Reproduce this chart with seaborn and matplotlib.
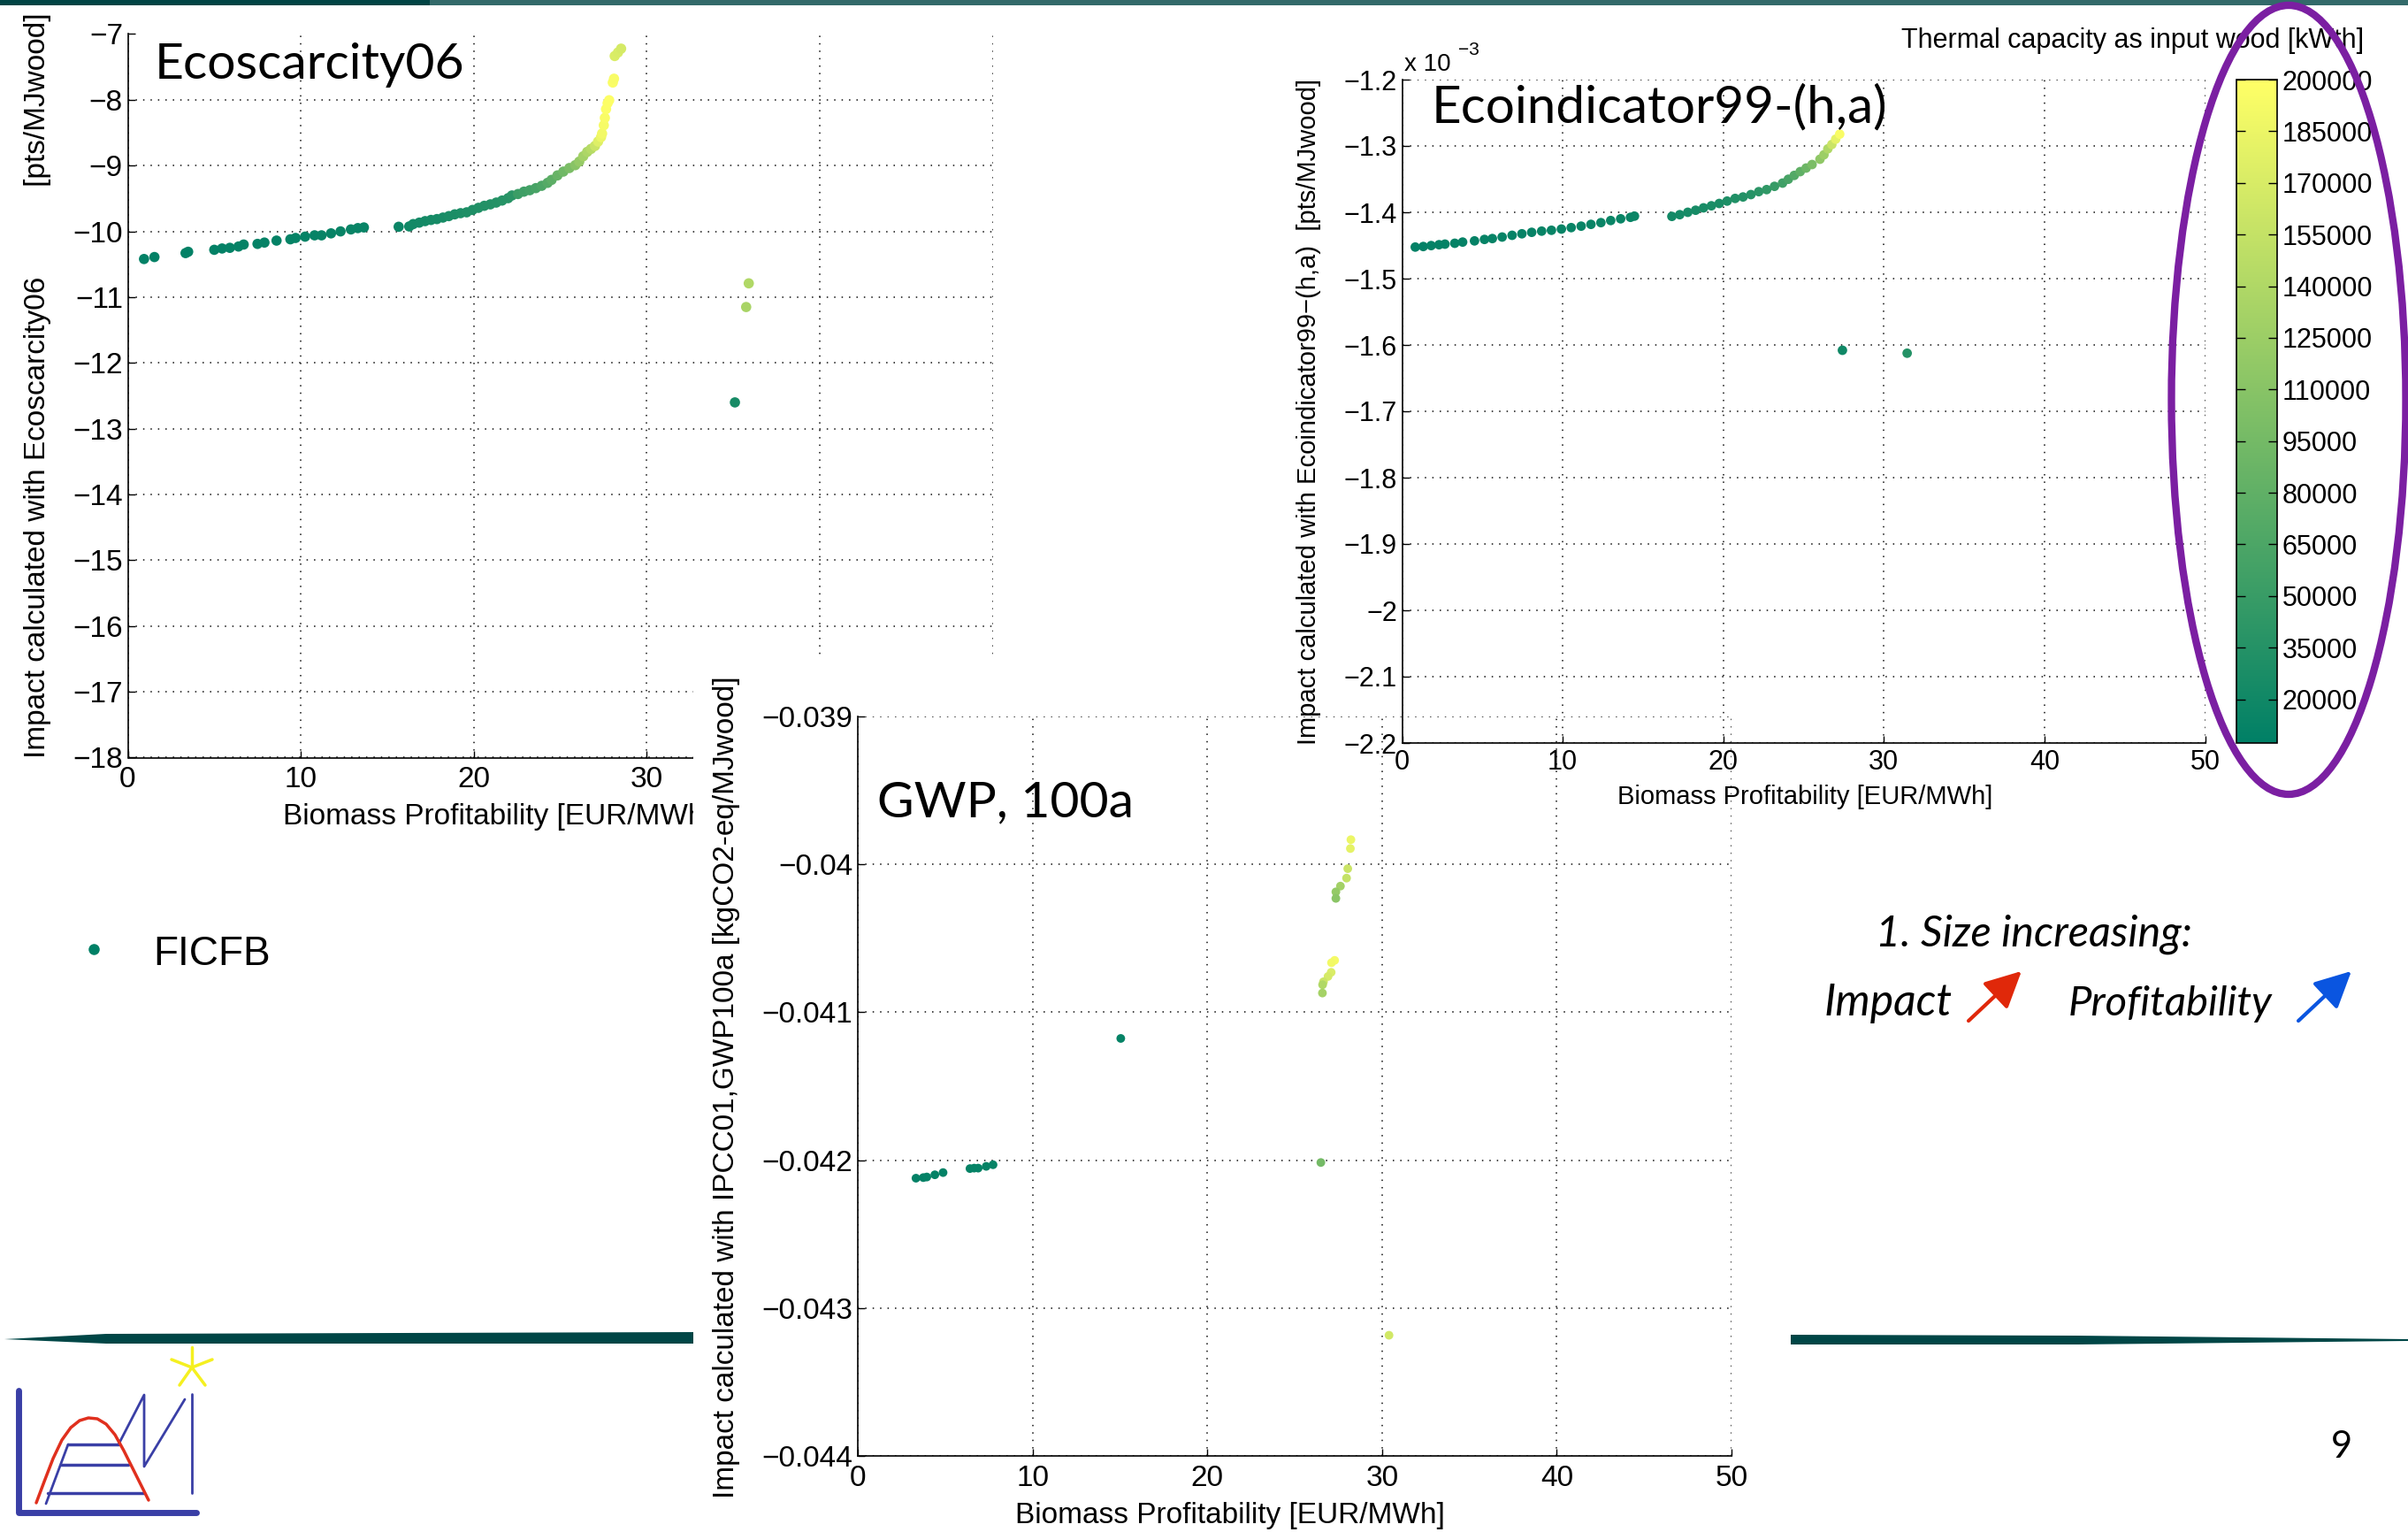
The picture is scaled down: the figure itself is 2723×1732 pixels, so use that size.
import matplotlib
matplotlib.use("Agg")
import matplotlib.pyplot as plt
import seaborn as sns
from matplotlib.colors import Normalize
from matplotlib.cm import ScalarMappable
from matplotlib.ticker import FixedLocator, FuncFormatter
from matplotlib.patches import Rectangle, Polygon, Ellipse, FancyArrowPatch
from matplotlib.lines import Line2D

# ---------------------------------------------------------------- data
# Ecoscarcity06 impact [pts/MJwood] vs. biomass profitability [EUR/MWh]
eco06_profit = [0.94, 1.54, 3.34, 3.49, 5.00, 5.45, 5.90, 6.40, 6.70, 7.50, 7.90, 8.60,
                9.40, 9.70, 10.25, 10.80, 11.20, 11.75, 12.30, 12.90, 13.30, 13.65, 15.66,
                16.27, 16.50, 16.85, 17.19, 17.53, 17.87, 18.22, 18.56, 18.90, 19.24, 19.59,
                19.93, 20.27, 20.61, 20.96, 21.30, 21.64, 21.99, 22.21, 22.56, 22.90, 23.24,
                23.59, 23.93, 24.27, 24.50, 24.84, 25.18, 25.53, 25.87, 26.10, 26.33, 26.56,
                26.78, 27.01, 27.19, 27.36, 27.42, 27.52, 27.58, 27.65, 27.74, 27.83, 28.04,
                28.11, 28.15, 28.34, 28.52,
                35.90, 35.75, 35.10]
eco06_impact = [-10.42, -10.39, -10.33, -10.31, -10.28, -10.26, -10.25, -10.23, -10.20, -10.19,
                 -10.17, -10.14, -10.12, -10.10, -10.08, -10.06, -10.06, -10.03, -10.00, -9.97,
                 -9.95, -9.94, -9.93,
                 -9.925, -9.889, -9.867, -9.844, -9.826, -9.813, -9.790, -9.768, -9.741, -9.723,
                 -9.710, -9.674, -9.642, -9.611, -9.589, -9.562, -9.531, -9.495, -9.454, -9.432,
                 -9.396, -9.374, -9.342, -9.307, -9.262, -9.217, -9.149, -9.091, -9.037, -8.993,
                 -8.939, -8.858, -8.791, -8.746, -8.701, -8.634, -8.567, -8.513, -8.387, -8.275,
                 -8.141, -8.051, -8.006, -7.737, -7.679, -7.334, -7.280, -7.222,
                 -10.79, -11.15, -12.60]
eco06_capacity = [9000, 9000, 9500, 9500, 10000, 10000, 10500, 10500, 11000, 11000, 11500, 11500,
                  12000, 12000, 12500, 12500, 13000, 13000, 13500, 14000, 14000, 14500, 16000,
                  20000, 21000, 22000, 23000, 24000, 25000, 26000, 27000, 28000, 29000, 30000,
                  31000, 32000, 33000, 34000, 35000, 36000, 38000, 40000, 52000, 55000, 58000,
                  62000, 66000, 72000, 78000, 85000, 92000, 100000, 110000, 120000, 130000, 138000,
                  145000, 160000, 175000, 185000, 190000, 193000, 195000, 197000, 198000, 198000,
                  196000, 194000, 172000, 170000, 168000,
                  140000, 135000, 25000]

# Ecoindicator99-(h,a) impact [pts/MJwood]
ei99_profit = [0.82, 1.32, 1.81, 2.30, 2.67, 3.28, 3.77, 4.51, 5.13, 5.62, 6.23, 6.85, 7.46,
               8.07, 8.69, 9.30, 9.92, 10.53, 11.15, 11.76, 12.38, 12.99, 13.61, 14.22, 14.47,
               16.80, 17.29, 17.79, 18.28, 18.77, 19.26, 19.75, 20.24, 20.74, 21.23, 21.72,
               22.21, 22.70, 23.19, 23.69, 24.05, 24.42, 24.79, 25.16, 25.53, 26.02, 26.27,
               26.51, 26.76, 27.00, 27.25,
               27.42, 31.45]
ei99_impact = [-1.4524e-3, -1.4516e-3, -1.4502e-3, -1.4489e-3, -1.4480e-3, -1.4467e-3, -1.4449e-3,
               -1.4431e-3, -1.4409e-3, -1.4396e-3, -1.4373e-3, -1.4347e-3, -1.4324e-3, -1.4302e-3,
               -1.4284e-3, -1.4271e-3, -1.4253e-3, -1.4231e-3, -1.4209e-3, -1.4182e-3, -1.4156e-3,
               -1.4124e-3, -1.4098e-3, -1.4076e-3, -1.4058e-3,
               -1.4062e-3, -1.4036e-3, -1.4000e-3, -1.3969e-3, -1.3933e-3, -1.3902e-3, -1.3867e-3,
               -1.3831e-3, -1.3791e-3, -1.3769e-3, -1.3733e-3, -1.3689e-3, -1.3658e-3, -1.3609e-3,
               -1.3560e-3, -1.3502e-3, -1.3444e-3, -1.3387e-3, -1.3333e-3, -1.3280e-3, -1.3200e-3,
               -1.3133e-3, -1.3044e-3, -1.2978e-3, -1.2898e-3, -1.2822e-3,
               -1.6080e-3, -1.6124e-3]
ei99_capacity = [10000, 10000, 10500, 10500, 11000, 11000, 11500, 11500, 12000, 12000, 12500,
                 12500, 13000, 13000, 13500, 13500, 14000, 14000, 14500, 14500, 15000, 15000,
                 15500, 15500, 16000,
                 22000, 23000, 24000, 25000, 26000, 27000, 28000, 30000, 32000, 34000, 36000,
                 40000, 44000, 48000, 55000, 62000, 70000, 80000, 90000, 100000, 115000, 125000,
                 140000, 160000, 180000, 195000,
                 20000, 35000]

# IPCC01 GWP100a impact [kgCO2-eq/MJwood]
gwp_profit = [3.33, 3.75, 3.95, 4.41, 4.88, 6.42, 6.66, 6.89, 7.35, 7.74, 15.05, 26.50, 30.40,
              28.22, 28.19, 28.04, 27.97, 27.62, 27.36, 27.36,
              27.29, 27.11, 27.09, 26.91, 26.65, 26.60, 26.59]
gwp_impact = [-0.042122, -0.042118, -0.042114, -0.042099, -0.042084, -0.042057, -0.042054,
              -0.042054, -0.042042, -0.042031, -0.041177, -0.042016, -0.043184,
              -0.039833, -0.039893, -0.040029, -0.040093, -0.040147, -0.040186, -0.040230,
              -0.040649, -0.040665, -0.040730, -0.040758, -0.040794, -0.040814, -0.040870]
gwp_capacity = [10000, 10000, 10500, 11000, 11000, 12000, 12000, 12500, 13000, 13000, 12000,
                95000, 165000,
                185000, 180000, 160000, 155000, 130000, 120000, 112000,
                192000, 190000, 172000, 168000, 160000, 140000, 132000]

profit_ticks = [0, 10, 20, 30, 40, 50]
eco06_yticks = [-18, -17, -16, -15, -14, -13, -12, -11, -10, -9, -8, -7]
ei99_yticks = [-2.2e-3, -2.1e-3, -2.0e-3, -1.9e-3, -1.8e-3, -1.7e-3, -1.6e-3, -1.5e-3,
               -1.4e-3, -1.3e-3, -1.2e-3]
gwp_yticks = [-0.044, -0.043, -0.042, -0.041, -0.040, -0.039]
capacity_ticks = [20000, 35000, 50000, 65000, 80000, 95000, 110000, 125000, 140000,
                  155000, 170000, 185000, 200000]
capacity_range = (7300, 200000)

# ---------------------------------------------------------------- layout helpers
W, H = 2723, 1732
plt.rcParams["font.family"] = ["Liberation Sans", "DejaVu Sans"]
plt.rcParams["axes.unicode_minus"] = True

fig = plt.figure(figsize=(W / 100, H / 100), dpi=100, facecolor="white")


def fx(x):
    return x / W


def fy(y):
    return 1 - y / H


def box(x0, x1, y_top, y_bot):
    return [fx(x0), fy(y_bot), (x1 - x0) / W, (y_bot - y_top) / H]


def minus_fmt(scale=1.0):
    return FuncFormatter(lambda v, pos: f"{v * scale:g}".replace("-", "\u2212"))


TEAL_DARK = "#004646"
GRID_LS = (0, (1, 4.5))
norm = Normalize(*capacity_range)
cmap = "summer"


def style_axes(ax, xlim, ylim, yticks, yfmt, fs, xpad, ypad):
    ax.set_facecolor("white")
    ax.set_xlim(*xlim)
    ax.set_ylim(*ylim)
    ax.xaxis.set_major_locator(FixedLocator(profit_ticks))
    ax.yaxis.set_major_locator(FixedLocator(yticks))
    ax.xaxis.set_major_formatter(minus_fmt())
    ax.yaxis.set_major_formatter(yfmt)
    for s in ("top", "right"):
        ax.spines[s].set_visible(False)
    for s in ("left", "bottom"):
        ax.spines[s].set_linewidth(1.2)
        ax.spines[s].set_color("black")
    ax.grid(True, linestyle=GRID_LS, linewidth=1.1, color="#111111")
    ax.set_axisbelow(True)
    ax.tick_params(direction="in", length=6, width=1, labelsize=fs, colors="black")
    ax.tick_params(axis="x", pad=xpad)
    ax.tick_params(axis="y", pad=ypad)


def place_labels(ax, xlabel, ylabel, fs, xpos, ypos):
    ax.set_xlabel(xlabel, fontsize=fs)
    ax.set_ylabel(ylabel, fontsize=fs)
    ax.xaxis.label.set_va("center")
    ax.yaxis.label.set_va("center")
    ax.xaxis.set_label_coords(*xpos)
    ax.yaxis.set_label_coords(*ypos)


# ---------------------------------------------------------------- Ecoscarcity06
ax1 = fig.add_axes(box(144.5, 1122.5, 38.5, 856.5), zorder=0)
sns.scatterplot(x=eco06_profit, y=eco06_impact, hue=eco06_capacity, palette=cmap,
                hue_norm=norm, s=70, linewidth=0, legend=False, ax=ax1, clip_on=False)
style_axes(ax1, (0, 50), (-18, -7), eco06_yticks, minus_fmt(), 24, 7, 4)
place_labels(ax1, "Biomass Profitability [EUR/MWh]",
             "Impact calculated with Ecoscarcity06           [pts/MJwood]", 24,
             (0.428, -0.082), (-0.104, 0.514))
ax1.text(0.031, 0.938, "Ecoscarcity06", transform=ax1.transAxes, family="Lato",
         fontsize=41, va="baseline", ha="left")

# white panel behind the GWP chart
fig.add_artist(Rectangle((fx(784), 0), (2025 - 784) / W, fy(740), transform=fig.transFigure,
                         facecolor="white", edgecolor="none", zorder=1))

# ---------------------------------------------------------------- GWP 100a
ax3 = fig.add_axes(box(970, 1958, 810, 1646), zorder=2)
sns.scatterplot(x=gwp_profit, y=gwp_impact, hue=gwp_capacity, palette=cmap,
                hue_norm=norm, s=50, linewidth=0, legend=False, ax=ax3)
style_axes(ax3, (0, 50), (-0.044, -0.039), gwp_yticks, minus_fmt(), 24, 7, 4)
place_labels(ax3, "Biomass Profitability [EUR/MWh]",
             "Impact calculated with IPCC01,GWP100a [kgCO2-eq/MJwood]", 24,
             (0.426, -0.081), (-0.150, 0.498))
ax3.text(0.022, 0.865, "GWP, 100a", transform=ax3.transAxes, family="Lato",
         fontsize=41, va="baseline", ha="left")

# ---------------------------------------------------------------- Ecoindicator99
ax2 = fig.add_axes(box(1585.5, 2493.5, 90, 840), zorder=3)
sns.scatterplot(x=ei99_profit, y=ei99_impact, hue=ei99_capacity, palette=cmap,
                hue_norm=norm, s=60, linewidth=0, legend=False, ax=ax2)
style_axes(ax2, (0, 50), (-2.2e-3, -1.2e-3), ei99_yticks, minus_fmt(1e3), 22, 5, 4)
ax2.patch.set_facecolor("none")
place_labels(ax2, "Biomass Profitability [EUR/MWh]",
             "Impact calculated with Ecoindicator99\u2212(h,a)  [pts/MJwood]", 21,
             (0.502, -0.081), (-0.116, 0.500))
ax2.text(0.036, 0.936, "Ecoindicator99-(h,a)", transform=ax2.transAxes, family="Lato",
         fontsize=42, va="baseline", ha="left")
fig.text(fx(1588), fy(80), "x 10", fontsize=20, va="baseline")
fig.text(fx(1649), fy(62), "\u22123", fontsize=15, va="baseline")

# colour bar
cax = fig.add_axes(box(2529, 2575, 90, 840), zorder=3)
cb = fig.colorbar(ScalarMappable(norm=norm, cmap=cmap), cax=cax)
cb.set_ticks(capacity_ticks)
cb.set_ticklabels([str(t) for t in capacity_ticks])
cb.outline.set_linewidth(1.2)
cax.tick_params(direction="in", left=True, right=True, length=7, width=1,
                labelsize=22, pad=4)
fig.text(fx(2150), fy(54), "Thermal capacity as input wood [kWth]", fontsize=22,
         va="baseline", ha="left")

# ---------------------------------------------------------------- slide decorations
fig.add_artist(Rectangle((0, fy(6)), fx(486), 6 / H, transform=fig.transFigure,
                         facecolor="#004444", edgecolor="none", zorder=5))
fig.add_artist(Rectangle((fx(486), fy(6)), 1 - fx(486), 6 / H, transform=fig.transFigure,
                         facecolor="#336a6a", edgecolor="none", zorder=5))

left_swoosh = [(5, 1514), (120, 1508), (784, 1506), (784, 1519), (120, 1519)]
right_swoosh = [(2025, 1509), (2350, 1510), (2723, 1514), (2723, 1516), (2350, 1520),
                (2025, 1520)]
for pts in (left_swoosh, right_swoosh):
    fig.add_artist(Polygon([(fx(a), fy(b)) for a, b in pts], closed=True,
                           transform=fig.transFigure, facecolor=TEAL_DARK,
                           edgecolor="none", zorder=0.5))


def fig_line(pts, color, lw):
    fig.add_artist(Line2D([fx(a) for a, b in pts], [fy(b) for a, b in pts],
                          transform=fig.transFigure, color=color, lw=lw,
                          solid_capstyle="round", solid_joinstyle="round", zorder=0.5))


# laboratory logo
LOGO_BLUE = "#3a3fa6"
fig_line([(21, 1572), (21, 1710), (222, 1710)], LOGO_BLUE, 5)
fig_line([(54, 1688), (163, 1688)], LOGO_BLUE, 2.5)
fig_line([(69, 1656), (145, 1656)], LOGO_BLUE, 2.5)
fig_line([(77, 1633), (134, 1633)], LOGO_BLUE, 2.5)
fig_line([(52, 1700), (77, 1633)], LOGO_BLUE, 2)
fig_line([(134, 1633), (163, 1577), (163, 1658), (209, 1582)], LOGO_BLUE, 2)
fig_line([(217, 1576), (217, 1688)], LOGO_BLUE, 2)
fig_line([(41, 1699), (50, 1675), (60, 1649), (70, 1628), (80, 1614), (90, 1606),
          (100, 1603), (110, 1604), (120, 1610), (130, 1622), (140, 1640), (150, 1660),
          (160, 1680), (168, 1696)], "#e0301e", 2.5)
for ex, ey in [(217, 1523), (194, 1537), (240, 1537), (203, 1566), (232, 1566)]:
    fig_line([(217, 1546), (ex, ey)], "#f5f020", 2.5)

# legend-style bullet
fig.add_artist(Line2D([fx(106)], [fy(1073)], marker="o", ms=9, color="#008066",
                      markeredgewidth=0, transform=fig.transFigure))
fig.text(fx(173), fy(1091), "FICFB", fontsize=33, va="baseline")

# note on plant size
fig.text(fx(2121), fy(1070), "1. Size increasing:", family="Lato", style="italic",
         fontsize=35, va="baseline")
fig.text(fx(2063), fy(1148), "Impact", family="Lato", style="italic", fontsize=36,
         va="baseline")
fig.text(fx(2339), fy(1148), "Profitability", family="Lato", style="italic", fontsize=34,
         va="baseline")
for (x0, y0, x1, y1), col in [((2224, 1156, 2288, 1096), "#e0280a"),
                              ((2597, 1156, 2661, 1096), "#0a55e0")]:
    fig.add_artist(FancyArrowPatch((fx(x0), fy(y0)), (fx(x1), fy(y1)),
                                   transform=fig.transFigure, color=col, lw=3,
                                   arrowstyle="-|>,head_length=0.9,head_width=0.45",
                                   mutation_scale=28))

fig.text(fx(2636), fy(1648), "9", family="Lato", fontsize=30, va="baseline")

# highlight around the colour scale
fig.add_artist(Ellipse((fx(2588), fy(452)), 265 / W, 892 / H, transform=fig.transFigure,
                       fill=False, edgecolor="#7b1fa2", lw=6, zorder=10))

fig.savefig("out.png", dpi=100, facecolor="white")
